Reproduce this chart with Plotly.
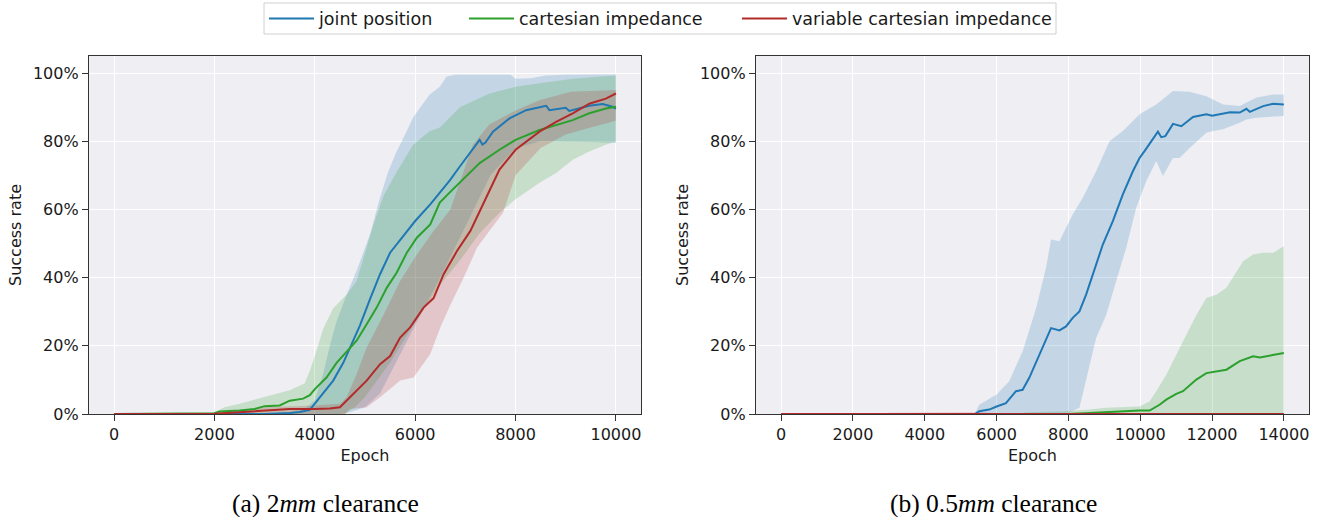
import plotly.graph_objects as go

# ---------------- data: (a) 2mm clearance ----------------
a_jp_x = [0, 1000, 2000, 3000, 3500, 3700, 3900, 4000, 4167, 4367, 4567, 4700, 4900, 5100, 5300, 5500, 5833, 6000, 6300, 6490, 6690, 6890, 7150, 7285, 7340, 7400, 7550, 7880, 8210, 8610, 8675, 8800, 9000, 9070, 9250, 9470, 9735, 9934, 10000]
a_jp_y = [0, 0, 0, 0, 0.3, 0.6, 1.2, 3, 5.9, 9.8, 15, 19.5, 26, 33.7, 41, 47.3, 53.7, 56.6, 61.5, 64.9, 68.5, 72.6, 77.5, 80.4, 79, 79.6, 82.8, 86.7, 89.1, 90.4, 89.1, 89.4, 89.8, 88.9, 89.6, 90.4, 90.9, 90.1, 89.6]
a_jp_up_x = [0, 3000, 3500, 3800, 4000, 4170, 4300, 4430, 4633, 4833, 5100, 5300, 5460, 5630, 5800, 5960, 6130, 6290, 6490, 6625, 6800, 7500, 7900, 8000, 8300, 8600, 9000, 10000]
a_jp_up_y = [0, 0, 0.5, 1.5, 4, 12, 20, 27, 35, 42, 52.7, 63.4, 71, 77, 82, 87, 90.5, 93.7, 96, 99, 99.5, 99.6, 99.5, 98.3, 98.5, 99.3, 99.5, 99.6]
a_jp_lo_x = [0, 4500, 4700, 5000, 5300, 5500, 6000, 6500, 7000, 7500, 8000, 8500, 9000, 9500, 10000]
a_jp_lo_y = [0, 0, 0.5, 2, 6, 12, 26, 40, 55, 70, 78, 80, 80, 79.8, 79.5]

a_ci_x = [0, 1000, 1900, 2000, 2100, 2300, 2500, 2800, 3000, 3300, 3500, 3767, 3900, 4000, 4233, 4433, 4700, 4833, 5033, 5233, 5433, 5633, 5833, 6033, 6300, 6490, 6690, 6890, 7285, 7680, 8000, 8477, 9140, 9470, 9800, 10000]
a_ci_y = [0, 0, 0, 0.2, 0.7, 0.8, 1, 1.5, 2.3, 2.5, 3.9, 4.5, 5.5, 7.3, 10.7, 15, 19.5, 21.5, 26.3, 31.2, 37, 41.5, 47.3, 51.7, 55.6, 62, 65, 67.8, 73.6, 77.5, 80.4, 83.3, 86.2, 88.2, 89.6, 90.1]
a_ci_up_x = [0, 1900, 2000, 2200, 2500, 3000, 3500, 3800, 3900, 4000, 4167, 4367, 4633, 4833, 5170, 5370, 5630, 5960, 6290, 6490, 6890, 7480, 8000, 8477, 9140, 10000]
a_ci_up_y = [0, 0, 0.5, 2, 3, 5, 7, 9, 12.7, 17, 25, 31, 35, 39, 55.6, 64, 71, 79, 83, 84, 90, 94, 96, 97, 98.3, 99.3]
a_ci_lo_x = [0, 4600, 4800, 5000, 5500, 6000, 6500, 6890, 7285, 7680, 8000, 8477, 8808, 9140, 9470, 9800, 10000]
a_ci_lo_y = [0, 0, 2, 5, 15, 27, 38, 45, 53, 59, 63, 67.8, 70.7, 74.6, 77, 79, 80]

a_vci_x = [0, 1900, 2000, 2500, 3000, 3500, 4000, 4300, 4500, 4633, 4833, 5033, 5300, 5500, 5700, 5900, 6167, 6367, 6567, 6833, 7100, 7300, 7680, 8000, 8477, 8808, 9140, 9470, 9800, 10000]
a_vci_y = [0, 0, 0.1, 0.5, 1, 1.5, 1.5, 1.6, 2, 3.9, 6.8, 9.8, 14.6, 17, 22.4, 25.4, 31.2, 34, 41, 47.8, 53.7, 60, 71.7, 77.5, 82.8, 85.7, 88.2, 91, 92.5, 94]
a_vci_up_x = [0, 2000, 3000, 4000, 4500, 4633, 4833, 5033, 5367, 5700, 6033, 6367, 6700, 7150, 7480, 8000, 8470, 9100, 10000]
a_vci_up_y = [0, 0.3, 2, 2.5, 3, 4.9, 11.7, 19.5, 29, 39, 46.8, 53.7, 60, 79, 85, 89, 92, 94.5, 95]
a_vci_lo_x = [0, 4600, 4700, 5033, 5300, 5700, 5967, 6300, 6500, 6700, 6967, 7233, 7550, 7750, 8000, 8500, 9000, 9500, 10000]
a_vci_lo_y = [0, 0, 1.5, 2, 4.9, 9.8, 10.7, 17.6, 25.4, 32, 40, 48.8, 55, 59, 70, 78, 82, 84, 86]

# ---------------- data: (b) 0.5mm clearance ----------------
b_jp_x = [0, 5400, 5516, 5795, 6000, 6260, 6540, 6725, 6910, 7190, 7516, 7750, 7935, 8120, 8307, 8493, 8680, 8958, 9237, 9516, 9795, 9981, 10120, 10353, 10493, 10586, 10700, 10912, 11144, 11470, 11842, 12000, 12307, 12500, 12772, 12958, 13051, 13423, 13702, 14000]
b_jp_y = [0, 0, 0.8, 1.3, 2.2, 3.2, 6.7, 7.1, 10.6, 17.4, 25.2, 24.5, 25.7, 28.2, 30.1, 35, 40.9, 49.7, 56.6, 64.4, 71.2, 75.1, 77.1, 80.5, 82.8, 81.2, 81.5, 85.1, 84.4, 87.1, 87.9, 87.5, 88.1, 88.5, 88.4, 89.5, 88.6, 90.3, 91, 90.8]
b_jp_up_x = [0, 5400, 5516, 6000, 6350, 6725, 7100, 7377, 7516, 7750, 7935, 8120, 8400, 8772, 9144, 9516, 9981, 10446, 10912, 11377, 11656, 11842, 12307, 12772, 13237, 13702, 14000]
b_jp_up_y = [0, 0.2, 2.7, 5.7, 9.6, 18.4, 31, 42.9, 51.2, 50.7, 54.6, 58.5, 63.4, 71.2, 80, 83, 87.9, 90.8, 94.7, 94.5, 93.7, 93.2, 90.8, 90.3, 92.8, 93.7, 93.7]
b_jp_lo_x = [0, 7935, 8307, 8493, 8772, 9051, 9330, 9609, 9888, 10167, 10446, 10632, 10912, 11098, 11377, 11842, 12028, 12307, 12772, 12958, 13237, 14000]
b_jp_lo_y = [0, 0, 1.8, 9.6, 22.3, 29, 38.9, 48.7, 60.5, 68.3, 74.2, 69.8, 75.1, 75.1, 78, 82.5, 83, 83.5, 85.4, 86.4, 86.9, 87.4]

b_ci_x = [0, 8000, 8586, 9051, 9516, 9981, 10260, 10539, 10725, 11004, 11190, 11563, 11842, 12121, 12400, 12772, 13144, 13330, 13702, 14000]
b_ci_y = [0, 0, 0.3, 0.6, 0.8, 1, 1, 2.7, 4.2, 5.9, 6.7, 10.1, 12, 12.5, 13, 15.5, 16.9, 16.6, 17.2, 17.9]
b_ci_up_x = [0, 6700, 6800, 7900, 8586, 9051, 9981, 10260, 10446, 10725, 11004, 11284, 11563, 11842, 12121, 12400, 12586, 12865, 13144, 13423, 13702, 14000]
b_ci_up_y = [0, 0, 0.5, 0.8, 1.3, 1.8, 2.2, 3.7, 6.7, 11.5, 17.4, 23.3, 29, 34, 35, 37, 40, 44.8, 46.8, 47.3, 47.3, 49.2]
b_ci_lo_x = [0, 14000]
b_ci_lo_y = [0, 0]

b_vci_x = [0, 14000]
b_vci_y = [0, 0]
b_vci_up_x = [0, 2800, 3000, 4000, 5000, 5500, 6000, 7000, 14000]
b_vci_up_y = [0, 0, 0.4, 0.4, 0.5, 0.5, 0.2, 0, 0]
b_vci_lo_x = [0, 14000]
b_vci_lo_y = [0, 0]

names = ["joint position", "cartesian impedance", "variable cartesian impedance"]
line_colors = ["#1f77b4", "#2ca02c", "#b22a2a"]
fill_colors = ["rgba(31,119,180,0.2)", "rgba(44,160,44,0.2)", "rgba(178,42,42,0.2)"]

a_xticks = [0, 2000, 4000, 6000, 8000, 10000]
b_xticks = [0, 2000, 4000, 6000, 8000, 10000, 12000, 14000]
y_ticks = [0, 20, 40, 60, 80, 100]
y_ticktext = ["0%", "20%", "40%", "60%", "80%", "100%"]

panel_a = [
    (a_jp_x, a_jp_y, a_jp_up_x, a_jp_up_y, a_jp_lo_x, a_jp_lo_y),
    (a_ci_x, a_ci_y, a_ci_up_x, a_ci_up_y, a_ci_lo_x, a_ci_lo_y),
    (a_vci_x, a_vci_y, a_vci_up_x, a_vci_up_y, a_vci_lo_x, a_vci_lo_y),
]
panel_b = [
    (b_jp_x, b_jp_y, b_jp_up_x, b_jp_up_y, b_jp_lo_x, b_jp_lo_y),
    (b_ci_x, b_ci_y, b_ci_up_x, b_ci_up_y, b_ci_lo_x, b_ci_lo_y),
    (b_vci_x, b_vci_y, b_vci_up_x, b_vci_up_y, b_vci_lo_x, b_vci_lo_y),
]
legend_ids = ["legend", "legend2", "legend3"]

fig = go.Figure()

for panel, xa, ya, show in [(panel_a, "x", "y", True), (panel_b, "x2", "y2", False)]:
    for i, (mx, my, ux, uy, lx, ly) in enumerate(panel):
        fig.add_trace(go.Scatter(
            x=list(ux) + list(lx)[::-1], y=list(uy) + list(ly)[::-1],
            fill="toself", fillcolor=fill_colors[i], line=dict(width=0),
            mode="lines", hoverinfo="skip", showlegend=False, xaxis=xa, yaxis=ya))
    for i, (mx, my, ux, uy, lx, ly) in enumerate(panel):
        fig.add_trace(go.Scatter(
            x=mx, y=my, mode="lines", name=names[i],
            line=dict(color=line_colors[i], width=2),
            showlegend=show, legend=legend_ids[i], xaxis=xa, yaxis=ya))

W, H = 1323, 517
HE = 507  # effective vertical extent used for paper fractions
font = dict(family="DejaVu Sans", size=16, color="#1a1a1a")
ax_common = dict(
    showline=True, mirror=True, linecolor="#333333", linewidth=1.3,
    ticks="outside", ticklen=6, tickcolor="#333333", tickwidth=1.2,
    showgrid=True, gridcolor="white", gridwidth=1.3, zeroline=False,
    tickfont=font,
)
y0, y1 = 1 - 414 / HE, 1 - 56 / HE

leg_common = dict(orientation="h", yanchor="middle", y=1 - 18.5 / HE, xanchor="left",
                  borderwidth=0, bgcolor="rgba(0,0,0,0)", itemwidth=45,
                  font=dict(family="DejaVu Sans", size=17.5, color="#1a1a1a"))

fig.update_layout(
    width=W, height=H,
    margin=dict(l=0, r=0, t=0, b=0),
    paper_bgcolor="white", plot_bgcolor="#eeeef3",
    font=font,
    xaxis=dict(domain=[89 / W, 641 / W], range=[-500, 10500], anchor="y",
               tickvals=a_xticks, ticktext=[str(v) for v in a_xticks],
               title=dict(text="Epoch", font=font, standoff=6), **ax_common),
    yaxis=dict(domain=[y0, y1], range=[0, 105], anchor="x",
               tickvals=y_ticks, ticktext=y_ticktext,
               title=dict(text="Success rate", font=font, standoff=7), **ax_common),
    xaxis2=dict(domain=[756 / W, 1309 / W], range=[-700, 14700], anchor="y2",
                tickvals=b_xticks, ticktext=[str(v) for v in b_xticks],
                title=dict(text="Epoch", font=font, standoff=6), **ax_common),
    yaxis2=dict(domain=[y0, y1], range=[0, 105], anchor="x2",
                tickvals=y_ticks, ticktext=y_ticktext,
                title=dict(text="Success rate", font=font, standoff=7), **ax_common),
    legend=dict(x=264 / W, **leg_common),
    legend2=dict(x=464 / W, **leg_common),
    legend3=dict(x=737 / W, **leg_common),
    shapes=[dict(type="rect", xref="paper", yref="paper",
                 x0=264 / W, x1=1056 / W, y0=1 - 34 / HE, y1=1 - 3 / HE,
                 line=dict(color="#d0d0d0", width=1), fillcolor="rgba(0,0,0,0)")],
    annotations=[
        dict(text="(a) 2<i>mm</i> clearance", x=325 / W, y=1 - 503 / HE, xref="paper", yref="paper",
             showarrow=False, xanchor="center", yanchor="middle",
             font=dict(family="Liberation Serif", size=25.5, color="black")),
        dict(text="(b) 0.5<i>mm</i> clearance", x=993 / W, y=1 - 503 / HE, xref="paper", yref="paper",
             showarrow=False, xanchor="center", yanchor="middle",
             font=dict(family="Liberation Serif", size=25.5, color="black")),
    ],
)

fig.write_html("out.html", config={"displayModeBar": False},
               post_script="document.body.style.margin='0';")
